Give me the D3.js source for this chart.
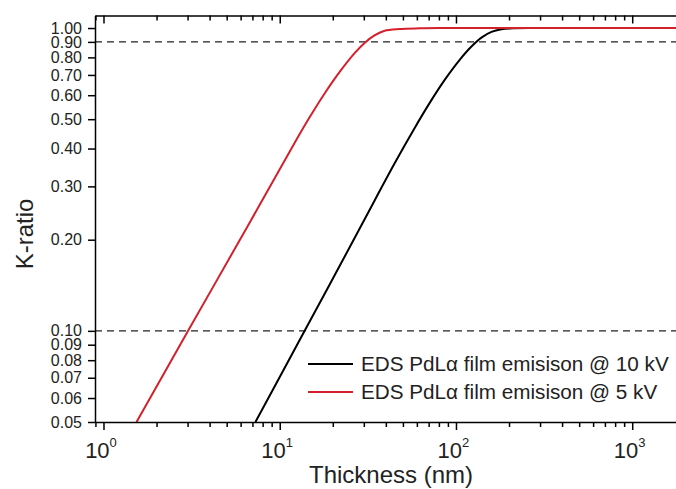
<!DOCTYPE html>
<html>
<head>
<meta charset="utf-8">
<script src="https://cdn.jsdelivr.net/npm/d3@7"></script>
<style>
  body { margin: 0; background: #fff; }
  svg { display: block; font-family: "Liberation Sans", Arial, sans-serif; }
  .axis path, .axis line { stroke: #000; stroke-width: 1.5; }
  .axis text { fill: #222; }
</style>
</head>
<body>
<div id="chart"></div>
<script>
let width = 676,
    height = 489,
    margin = ({ top: 15.5, right: -13, bottom: 67, left: 95 });

// K-ratio, 5 kV film (red)
const thick5kV = [1.54, 3.02, 6.76, 12.16, 14.8, 17.98, 21.88, 26.6, 30.3, 34.5, 39.4, 47.8, 62.1, 80.6, 2100];
const kratio5kV = [0.05, 0.100, 0.228, 0.418, 0.508, 0.608, 0.716, 0.826, 0.893, 0.945, 0.980, 0.993, 0.998, 1.0, 1.0];

// 10 kV film (black)
const thick10kV = [7.28, 13.85, 21.9, 34.5, 44.8, 58.2, 70.8, 86.1, 104.7, 122.4, 139.5, 158.9, 181.1, 214.5, 297, 2100];
const kratio10kV = [0.05, 0.100, 0.164, 0.269, 0.357, 0.467, 0.565, 0.673, 0.784, 0.869, 0.930, 0.9715, 0.991, 0.9985, 1.0, 1.0];

const yTicks = [0.05, 0.06, 0.07, 0.08, 0.09, 0.10, 0.20, 0.30, 0.40, 0.50, 0.60, 0.70, 0.80, 0.90, 1.00];
const xDecades = [0, 1, 2, 3];
const guideLevels = [0.9, 0.1];

const seriesNames = ["EDS PdL\u03b1 film emisison @ 10 kV", "EDS PdL\u03b1 film emisison @ 5 kV"];
const seriesColors = ["#000000", "#d4202a"];

const svg = d3.select("#chart")
  .append("svg")
  .attr("width", width)
  .attr("height", height)
  .attr("viewBox", [0, 0, width, height]);

let x = d3.scaleLog()
  .domain([0.895, 2100])
  .range([margin.left, width - margin.right]);

let y = d3.scaleLog()
  .domain([0.05, 1.1])
  .range([height - margin.bottom, margin.top]);

// minor ticks 2..9 per decade
let minorX = [];
for (let e = -1; e <= 3; e++) {
  for (let m = 2; m <= 9; m++) {
    let v = m * Math.pow(10, e);
    if (v >= x.domain()[0] && v <= x.domain()[1]) minorX.push(v);
  }
}
let majorX = xDecades.map(e => Math.pow(10, e));

svg.append("clipPath")
  .attr("id", "plot-clip")
  .append("rect")
  .attr("x", margin.left)
  .attr("y", margin.top)
  .attr("width", width - margin.left)
  .attr("height", height - margin.bottom - margin.top);

// dashed guide lines
svg.append("g")
  .selectAll("line")
  .data(guideLevels)
  .join("line")
  .attr("x1", margin.left)
  .attr("x2", width)
  .attr("y1", d => y(d))
  .attr("y2", d => y(d))
  .attr("stroke", "#222")
  .attr("stroke-width", 1.3)
  .attr("stroke-dasharray", "7,5");

// curves
let line = d3.line()
  .x(d => x(d[0]))
  .y(d => y(d[1]))
  .curve(d3.curveCatmullRom.alpha(0.5));

let series = [
  d3.zip(thick10kV, kratio10kV),
  d3.zip(thick5kV, kratio5kV)
];

svg.append("g")
  .attr("clip-path", "url(#plot-clip)")
  .selectAll("path")
  .data(series)
  .join("path")
  .attr("fill", "none")
  .attr("stroke", (d, i) => seriesColors[i])
  .attr("stroke-width", 2)
  .attr("d", line);

// bottom axis: minor then major
svg.append("g")
  .attr("class", "axis")
  .attr("transform", `translate(0,${height - margin.bottom})`)
  .call(d3.axisBottom(x).tickValues(minorX).tickSizeInner(5).tickSizeOuter(0).tickFormat(""));

let bottomMajor = svg.append("g")
  .attr("class", "axis")
  .attr("transform", `translate(0,${height - margin.bottom})`)
  .call(d3.axisBottom(x).tickValues(majorX).tickSizeInner(8).tickSizeOuter(0).tickFormat(""));
bottomMajor.select(".domain").remove();

// superscript tick labels
bottomMajor.selectAll(".tick")
  .append("text")
  .attr("y", 36)
  .attr("x", -3)
  .attr("text-anchor", "middle")
  .attr("font-size", 22)
  .attr("fill", "#222")
  .each(function (d, i) {
    let t = d3.select(this);
    t.append("tspan").text("10");
    t.append("tspan")
      .attr("dy", -11)
      .attr("font-size", 13)
      .text(xDecades[i]);
  });

// top axis, ticks pointing inward
svg.append("g")
  .attr("class", "axis")
  .attr("transform", `translate(0,${margin.top})`)
  .call(d3.axisTop(x).tickValues(minorX).tickSizeInner(-5).tickSizeOuter(0).tickFormat(""));

let topMajor = svg.append("g")
  .attr("class", "axis")
  .attr("transform", `translate(0,${margin.top})`)
  .call(d3.axisTop(x).tickValues(majorX).tickSizeInner(-8).tickSizeOuter(0).tickFormat(""));
topMajor.select(".domain").remove();

// y axis
svg.append("g")
  .attr("class", "axis")
  .attr("transform", `translate(${margin.left},0)`)
  .call(d3.axisLeft(y)
    .tickValues(yTicks)
    .tickSizeInner(7)
    .tickSizeOuter(0)
    .tickPadding(6)
    .tickFormat(d3.format(".2f")))
  .selectAll("text")
  .attr("font-size", 16);

// axis titles
svg.append("text")
  .attr("x", 391)
  .attr("y", 483)
  .attr("text-anchor", "middle")
  .attr("font-size", 24)
  .attr("fill", "#222")
  .text("Thickness (nm)");

svg.append("text")
  .attr("transform", "translate(33,234) rotate(-90)")
  .attr("text-anchor", "middle")
  .attr("font-size", 24)
  .attr("fill", "#222")
  .text("K-ratio");

// legend
let legend = svg.append("g")
  .selectAll("g")
  .data(seriesNames)
  .join("g")
  .attr("transform", (d, i) => `translate(308,${364 + i * 28})`);

legend.append("line")
  .attr("x1", 0)
  .attr("x2", 45)
  .attr("stroke", (d, i) => seriesColors[i])
  .attr("stroke-width", 2);

legend.append("text")
  .attr("x", 53)
  .attr("y", 7)
  .attr("font-size", 20.7)
  .attr("fill", "#222")
  .text(d => d);
</script>
</body>
</html>
